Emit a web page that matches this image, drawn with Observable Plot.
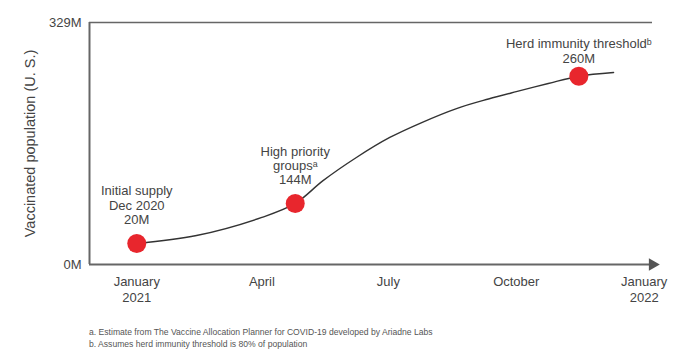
<!DOCTYPE html>
<html>
<head>
<meta charset="utf-8">
<script src="https://cdn.jsdelivr.net/npm/d3@7"></script>
<script src="https://cdn.jsdelivr.net/npm/@observablehq/plot@0.6"></script>
<style>
  body { margin: 0; background: #fff; font-family: "Liberation Sans", Arial, sans-serif; }
  #notes { margin: 16px 0 0 89px; font-size: 8.6px; line-height: 12px; color: #555; }
</style>
</head>
<body>
<div id="chart"></div>
<div id="notes">
  <div>a. Estimate from The Vaccine Allocation Planner for COVID-19 developed by Ariadne Labs</div>
  <div>b. Assumes herd immunity threshold is 80% of population</div>
</div>
<script>
// Curve (as drawn in the picture, values in millions)
const curveDates = ["2021-01-01","2021-02-13","2021-04-01","2021-04-25","2021-05-15","2021-06-08","2021-07-02","2021-07-25","2021-08-19","2021-09-11","2021-10-01","2021-10-24","2021-11-15","2021-12-10"];
const curveValues = [28.5, 39.4, 64, 83, 114, 145.5, 172.7, 193, 212, 225, 235, 246, 256, 261];

// Milestone points
const pointDates = ["2021-01-01","2021-04-25","2021-11-15"];
const pointValues = [28.5, 83, 256];
const pointLabels = ["Initial supply\nDec 2020\n20M", "High priority\ngroups\u1d43\n144M", "Herd immunity threshold\u1d47\n260M"];

// Axes
const xTickDates = ["2021-01-01","2021-04-01","2021-07-01","2021-10-01","2022-01-01"];
const xTickLabels = ["January\n2021","April","July","October","January\n2022"];
const yTickValues = [0, 329];
const yTickLabels = ["0M", "329M"];
const yTitle = "Vaccinated population (U. S.)";
const xDomain = ["2020-11-28", "2022-01-07"];
const yDomain = [0, 329];

const P = s => new Date(s + "T00:00:00Z");
const curve = curveDates.map((d, i) => ({date: P(d), value: curveValues[i]}));
const points = pointDates.map((d, i) => ({date: P(d), value: pointValues[i], label: pointLabels[i]}));
const xTicks = xTickDates.map((d, i) => ({date: P(d), label: xTickLabels[i]}));
const yTicks = yTickValues.map((v, i) => ({value: v, label: yTickLabels[i]}));
const xd = xDomain.map(P);

const txt = "#444";
const chart = Plot.plot({
  width: 700,
  height: 310,
  marginLeft: 89,
  marginRight: 48,
  marginTop: 22,
  marginBottom: 46,
  style: {fontFamily: "'Liberation Sans', Arial, sans-serif", background: "#fff"},
  x: {type: "utc", domain: xd, axis: null},
  y: {domain: yDomain, axis: null},
  marks: [
    Plot.ruleY([yDomain[1]], {stroke: "#666", strokeWidth: 1.5}),
    Plot.ruleX([xd[0]], {stroke: "#666", strokeWidth: 2}),
    Plot.ruleY([yDomain[0]], {stroke: "#666", strokeWidth: 2}),
    Plot.dot([xd[1]], {x: d => d, y: () => yDomain[0], symbol: "triangle", rotate: 90, r: 4.7, fill: "#555", stroke: null}),
    Plot.line(curve, {x: "date", y: "value", curve: "catmull-rom", stroke: "#333", strokeWidth: 1.4}),
    Plot.dot(points, {x: "date", y: "value", r: 9.5, fill: "#e8262d", stroke: null}),
    Plot.text(points.slice(0, 1), {x: "date", y: "value", text: "label", lineAnchor: "bottom", dy: -20, fontSize: 13, lineHeight: 1.08, fill: txt}),
    Plot.text(points.slice(1, 2), {x: "date", y: "value", text: "label", lineAnchor: "bottom", dy: -19, fontSize: 13, lineHeight: 1.08, fill: txt}),
    Plot.text(points.slice(2), {x: "date", y: "value", text: "label", lineAnchor: "bottom", dy: -13.5, fontSize: 13, lineHeight: 1.15, fill: txt}),
    Plot.text(xTicks, {x: "date", text: "label", frameAnchor: "bottom", lineAnchor: "top", dy: 10, fontSize: 13, lineHeight: 1.23, fill: txt}),
    Plot.text(yTicks, {y: "value", text: "label", frameAnchor: "left", textAnchor: "end", dx: -8, fontSize: 13, fill: txt}),
    Plot.text([yTitle], {text: d => d, frameAnchor: "left", textAnchor: "middle", rotate: -90, dx: -59, fontSize: 14.5, fill: txt})
  ]
});
document.getElementById("chart").appendChild(chart);
</script>
</body>
</html>
